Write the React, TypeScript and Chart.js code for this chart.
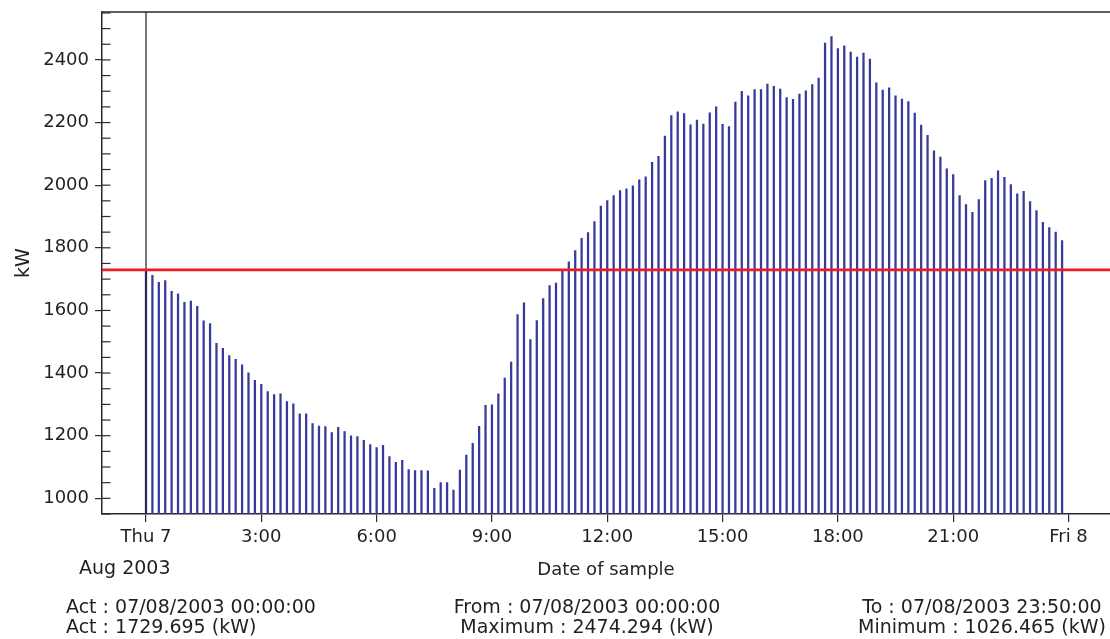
import React, { useEffect, useRef } from 'react';
import { Chart, registerables } from 'chart.js';

Chart.register(...registerables);

// ---- data -------------------------------------------------------------
const SAMPLE_STEP_MINUTES = 10; // one sample every 10 minutes, 00:00 .. 23:50

const loadKW = [
  1729.695, 1712, 1690, 1695, 1661, 1653, 1626, 1630, 1613, 1567, 1558, 1495,
  1479, 1456, 1444, 1426, 1401, 1377, 1364, 1341, 1331, 1334, 1309, 1302,
  1270, 1270, 1239, 1231, 1229, 1210, 1227, 1213, 1200, 1197, 1185, 1172,
  1162, 1169, 1133, 1115, 1121, 1092, 1089, 1089, 1088, 1032, 1050, 1050,
  1026.465, 1090, 1138, 1176, 1230, 1297, 1299, 1334, 1384, 1435, 1587, 1624,
  1507, 1568, 1638, 1679, 1687, 1725, 1755, 1791, 1830, 1849, 1884, 1933,
  1951, 1967, 1983, 1988, 1998, 2017, 2027, 2073, 2092, 2157, 2222, 2234,
  2229, 2193, 2208, 2195, 2231, 2250, 2194, 2187, 2265, 2300, 2285, 2305,
  2305, 2323, 2316, 2307, 2280, 2274, 2291, 2301, 2321, 2342, 2454, 2474.294,
  2436, 2445, 2425, 2409, 2422, 2403, 2327, 2304, 2311, 2285, 2275, 2267,
  2230, 2192, 2159, 2110, 2090, 2052, 2034, 1967, 1938, 1913, 1954, 2015,
  2022, 2046, 2025, 2002, 1972, 1980, 1948, 1919, 1881, 1865, 1850, 1823,
];

const xTickMinutes = [0, 180, 360, 540, 720, 900, 1080, 1260, 1440];
const xTickLabels = ['Thu 7', '3:00', '6:00', '9:00', '12:00', '15:00', '18:00', '21:00', 'Fri 8'];
const yTickValues = [1000, 1200, 1400, 1600, 1800, 2000, 2200, 2400];
const yMinorStep = 50;

const cursorMinute = 0;
const cursorValue = 1729.695;

const xAxisTitle = 'Date of sample';
const yAxisTitle = 'kW';
const periodLabel = 'Aug 2003';
const infoLeft = ['Act : 07/08/2003 00:00:00', 'Act : 1729.695 (kW)'];
const infoMid = ['From : 07/08/2003 00:00:00', 'Maximum : 2474.294 (kW)'];
const infoRight = ['To : 07/08/2003 23:50:00', 'Minimum : 1026.465 (kW)'];

// ---- styling ----------------------------------------------------------
const FONT = "'DejaVu Sans'";
const TEXT = '#231f20';
const AXIS = '#2b2b2b';
const BAR = '#363a9a';
const RED = '#ee1d25';

const overlayPlugin = {
  id: 'overlay',
  afterDatasetsDraw(chart: any) {
    const { ctx, chartArea: a, scales } = chart;
    const x = scales.x;
    const y = scales.y;
    ctx.save();
    // top frame line
    ctx.strokeStyle = AXIS;
    ctx.lineWidth = 1.5;
    ctx.beginPath();
    ctx.moveTo(a.left, a.top);
    ctx.lineTo(a.right, a.top);
    ctx.stroke();
    // inner ticks (major + minor)
    ctx.lineWidth = 1.2;
    for (let v = Math.ceil(y.min / yMinorStep) * yMinorStep; v <= y.max; v += yMinorStep) {
      const py = y.getPixelForValue(v);
      ctx.beginPath();
      ctx.moveTo(a.left, py);
      ctx.lineTo(a.left + 8.5, py);
      ctx.stroke();
    }
    // cursor vertical line
    const cx = x.getPixelForValue(cursorMinute);
    ctx.strokeStyle = '#1e1e1e';
    ctx.lineWidth = 1.2;
    ctx.beginPath();
    ctx.moveTo(cx, a.top);
    ctx.lineTo(cx, a.bottom);
    ctx.stroke();
    // cursor horizontal (value) line
    const ry = y.getPixelForValue(cursorValue);
    ctx.strokeStyle = RED;
    ctx.lineWidth = 2.6;
    ctx.beginPath();
    ctx.moveTo(a.left, ry);
    ctx.lineTo(a.right, ry);
    ctx.stroke();
    ctx.restore();
  },
  afterDraw(chart: any) {
    const { ctx, chartArea: a } = chart;
    ctx.save();
    ctx.fillStyle = TEXT;
    ctx.textBaseline = 'alphabetic';

    ctx.font = `18px ${FONT}`;
    ctx.textAlign = 'center';
    ctx.fillText(xAxisTitle, 606, 575);

    ctx.font = `19px ${FONT}`;
    ctx.textAlign = 'left';
    ctx.fillText(periodLabel, 79, 574);

    // y title
    ctx.save();
    ctx.font = `19px ${FONT}`;
    ctx.translate(29, (a.top + a.bottom) / 2);
    ctx.rotate(-Math.PI / 2);
    ctx.textAlign = 'center';
    ctx.fillText(yAxisTitle, 0, 0);
    ctx.restore();

    // info block
    ctx.font = `19px ${FONT}`;
    const rows = [612.7, 633.3];
    ctx.textAlign = 'left';
    infoLeft.forEach((t, i) => ctx.fillText(t, 66, rows[i]));
    ctx.textAlign = 'center';
    infoMid.forEach((t, i) => ctx.fillText(t, 587, rows[i]));
    infoRight.forEach((t, i) => ctx.fillText(t, 982, rows[i]));
    ctx.restore();
  },
};

export default function App() {
  const ref = useRef<HTMLCanvasElement | null>(null);

  useEffect(() => {
    if (!ref.current) return;
    const chart = new Chart(ref.current, {
      type: 'bar',
      data: {
        datasets: [
          {
            data: loadKW.map((v, i) => ({ x: i * SAMPLE_STEP_MINUTES, y: v })),
            backgroundColor: BAR,
            borderWidth: 0,
            barThickness: 1.6,
          },
        ],
      },
      options: {
        animation: false,
        responsive: false,
        devicePixelRatio: 1,
        layout: { padding: { left: 0, top: 12, right: 10, bottom: 0 } },
        plugins: {
          legend: { display: false },
          tooltip: { enabled: false },
        },
        scales: {
          x: {
            type: 'linear',
            offset: false,
            min: -68.68,
            max: 1520.39,
            afterFit: (s: any) => {
              s.height = 125;
              s.paddingLeft = 0;
              s.paddingRight = 0;
            },
            afterBuildTicks: (s: any) => {
              s.ticks = xTickMinutes.map((v) => ({ value: v }));
            },
            ticks: {
              autoSkip: false,
              maxRotation: 0,
              minRotation: 0,
              padding: 5,
              color: TEXT,
              font: { family: FONT, size: 18 },
              callback: (_v: any, i: number) => xTickLabels[i],
            },
            grid: {
              display: true,
              offset: false,
              drawOnChartArea: false,
              drawTicks: true,
              tickLength: 8,
              color: AXIS,
              lineWidth: 1.2,
            },
            border: { display: true, color: AXIS, width: 1.5 },
          },
          y: {
            type: 'linear',
            min: 950,
            max: 2553,
            afterFit: (s: any) => {
              s.width = 102;
              s.paddingTop = 0;
              s.paddingBottom = 0;
            },
            afterBuildTicks: (s: any) => {
              s.ticks = yTickValues.map((v) => ({ value: v }));
            },
            ticks: {
              padding: 6,
              color: TEXT,
              font: { family: FONT, size: 18 },
              callback: (v: any) => String(v),
            },
            grid: {
              display: true,
              drawOnChartArea: false,
              drawTicks: true,
              tickLength: 7,
              color: AXIS,
              lineWidth: 1.2,
            },
            border: { display: true, color: AXIS, width: 1.5 },
          },
        },
      },
      plugins: [overlayPlugin],
    });
    return () => chart.destroy();
  }, []);

  return (
    <div
      style={{
        position: 'fixed',
        left: 0,
        top: 0,
        width: 1110,
        height: 639,
        overflow: 'hidden',
        background: '#fff',
      }}
    >
      <canvas ref={ref} width={1130} height={639} style={{ display: 'block' }} />
    </div>
  );
}
